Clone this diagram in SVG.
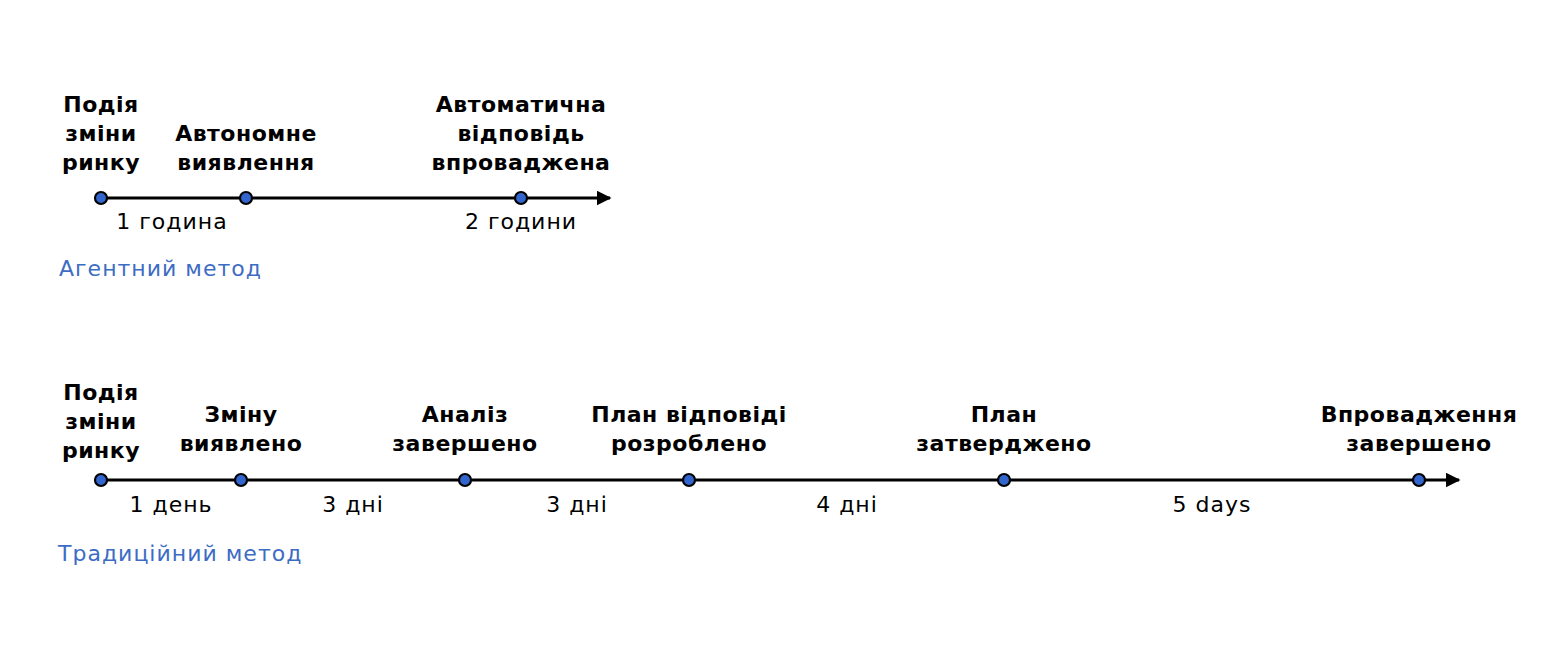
<svg xmlns="http://www.w3.org/2000/svg" width="1560" height="666" viewBox="0 0 1560 666">
<defs>
<style>
.t{font-family:"DejaVu Sans","Noto Sans",sans-serif;font-weight:700;font-size:22px;fill:#000;text-anchor:middle;letter-spacing:0.5px}
.d{font-family:"DejaVu Sans","Noto Sans",sans-serif;font-size:22px;fill:#000;text-anchor:middle;letter-spacing:1px}
.m{font-family:"DejaVu Sans","Noto Sans",sans-serif;font-size:22px;fill:#3d6cc4;letter-spacing:1px}
.ln{stroke:#000;stroke-width:3;fill:none}
.dot{fill:#3366cc;stroke:#000;stroke-width:2.2}
</style>
<marker id="arr" viewBox="0 0 10 10" refX="9" refY="5" markerWidth="5" markerHeight="5" markerUnits="strokeWidth" orient="auto">
<path d="M0,0 L10,5 L0,10 z" fill="#000"/>
</marker>
</defs>
<rect width="1560" height="666" fill="#fff"/>
<g id="connectors">
<line class="ln" x1="101" y1="198" x2="610" y2="198" marker-end="url(#arr)"/>
<line class="ln" x1="101" y1="480" x2="1459" y2="480" marker-end="url(#arr)"/>
</g>
<g id="agentic">
<g id="a1"><circle class="dot" cx="101" cy="198" r="6"/><text class="t" x="101" y="112">Подія</text><text class="t" x="101" y="141">зміни</text><text class="t" x="101" y="170">ринку</text></g>
<g id="a2"><circle class="dot" cx="246" cy="198" r="6"/><text class="t" x="246" y="141">Автономне</text><text class="t" x="246" y="170">виявлення</text></g>
<g id="a3"><circle class="dot" cx="521" cy="198" r="6"/><text class="t" x="521" y="112">Автоматична</text><text class="t" x="521" y="141">відповідь</text><text class="t" x="521" y="170">впроваджена</text></g>
<text class="d" x="172" y="229">1 година</text>
<text class="d" x="521" y="229">2 години</text>
<text class="m" x="59" y="276">Агентний метод</text>
</g>
<g id="traditional">
<g id="b1"><circle class="dot" cx="101" cy="480" r="6"/><text class="t" x="101" y="400">Подія</text><text class="t" x="101" y="429">зміни</text><text class="t" x="101" y="458">ринку</text></g>
<g id="b2"><circle class="dot" cx="241" cy="480" r="6"/><text class="t" x="241" y="422">Зміну</text><text class="t" x="241" y="451">виявлено</text></g>
<g id="b3"><circle class="dot" cx="465" cy="480" r="6"/><text class="t" x="465" y="422">Аналіз</text><text class="t" x="465" y="451">завершено</text></g>
<g id="b4"><circle class="dot" cx="689" cy="480" r="6"/><text class="t" x="689" y="422">План відповіді</text><text class="t" x="689" y="451">розроблено</text></g>
<g id="b5"><circle class="dot" cx="1004" cy="480" r="6"/><text class="t" x="1004" y="422">План</text><text class="t" x="1004" y="451">затверджено</text></g>
<g id="b6"><circle class="dot" cx="1419" cy="480" r="6"/><text class="t" x="1419" y="422">Впровадження</text><text class="t" x="1419" y="451">завершено</text></g>
<text class="d" x="171" y="512">1 день</text>
<text class="d" x="353" y="512">3 дні</text>
<text class="d" x="577" y="512">3 дні</text>
<text class="d" x="847" y="512">4 дні</text>
<text class="d" x="1212" y="512">5 days</text>
<text class="m" x="58" y="561">Традиційний метод</text>
</g>
</svg>
